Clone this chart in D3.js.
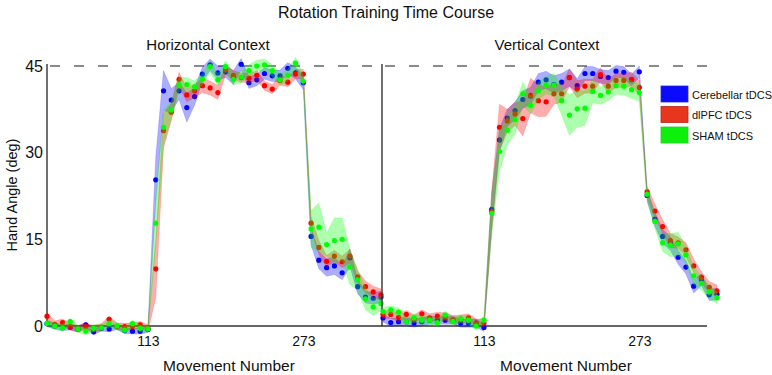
<!DOCTYPE html>
<html>
<head>
<meta charset="utf-8">
<script src="https://cdn.jsdelivr.net/npm/d3@7"></script>
<style>
  body { margin: 0; background: #fff; }
  text { font-family: "Liberation Sans", Arial, Helvetica, sans-serif; fill: #111; }
</style>
</head>
<body>
<div id="chart-area"></div>
<script>
// movement number of every bin (8 movements per bin)
const movement = [9, 17, 25, 33, 41, 49, 57, 65, 73, 81, 89, 97, 105, 113,
  121, 129, 137, 145, 153, 161, 169, 177, 185, 193, 201, 209, 217, 225, 233, 241, 249, 257, 265, 273,
  281, 289, 297, 305, 313, 321, 329, 337, 345, 353];

const groups = ["Cerebellar tDCS", "dlPFC tDCS", "SHAM tDCS"];
const xTicks = [113, 273];
const yTicks = [0, 15, 30, 45];

// Horizontal context, mean hand angle (deg)
const horizCereb = [0.4, 0.0, -0.3, -0.2, -0.5, 0.2, -1.0, -0.4, -0.5, -0.1, -0.8, -0.9, -0.9, -0.6,
  25.3, 40.7, 39.1, 40.7, 37.8, 39.7, 43.6, 45.2, 43.8, 44.0, 43.0, 45.3, 42.1, 42.6, 43.7, 43.3, 43.3, 44.6, 43.8, 42.1,
  15.5, 11.4, 10.1, 10.4, 9.2, 11.8, 6.8, 5.0, 4.8, 5.0];
const horizDlpfc = [1.7, 0.3, 0.6, -0.1, -0.5, -0.1, -0.5, -0.2, 1.15, -0.1, -0.1, -0.1, 0.2, -0.4,
  9.9, 33.8, 37.0, 42.7, 40.0, 40.7, 41.6, 41.2, 40.4, 44.4, 43.4, 43.0, 42.9, 43.4, 41.6, 41.0, 42.5, 42.2, 43.6, 43.6,
  17.8, 13.6, 11.2, 12.1, 11.1, 12.1, 8.5, 6.8, 5.9, 5.4];
const horizSham = [0.45, 0.0, -0.3, 0.75, -0.5, -0.9, -0.4, -0.3, 0.4, 0.0, -0.7, 0.4, -0.4, -0.5,
  17.8, 34.4, 37.4, 41.8, 41.8, 41.4, 42.7, 44.9, 42.6, 44.9, 42.7, 43.1, 44.2, 45.0, 45.2, 44.2, 42.6, 43.4, 45.5, 42.4,
  16.8, 17.1, 14.1, 14.8, 15.0, 10.2, 8.0, 4.7, 3.3, 3.9];

// Horizontal context, SEM
const horizCerebSem = [0.5, 0.5, 0.5, 0.5, 0.5, 0.5, 0.5, 0.5, 0.5, 0.5, 0.5, 0.5, 0.5, 0.5,
  4.0, 3.5, 2.0, 1.5, 2.5, 1.5, 1.2, 1.0, 1.2, 1.0, 1.2, 1.0, 1.0, 1.0, 1.0, 1.0, 1.0, 1.0, 1.0, 1.2,
  1.5, 1.5, 1.5, 1.5, 1.2, 1.5, 1.2, 1.0, 1.0, 1.0];
const horizDlpfcSem = [0.6, 0.6, 0.6, 0.6, 0.6, 0.6, 0.6, 0.6, 0.6, 0.6, 0.6, 0.6, 0.6, 0.6,
  5.0, 3.0, 1.5, 1.2, 1.2, 1.2, 1.2, 1.2, 1.2, 0.8, 0.8, 0.8, 0.8, 0.8, 0.8, 0.8, 0.8, 0.8, 0.8, 0.8,
  1.2, 1.2, 1.0, 1.0, 1.0, 1.2, 1.0, 1.0, 1.0, 1.0];
const horizShamSem = [0.6, 0.6, 0.6, 0.6, 0.6, 0.6, 0.6, 0.6, 0.6, 0.6, 0.6, 0.6, 0.6, 0.6,
  4.0, 3.0, 1.5, 1.2, 1.2, 1.0, 1.0, 1.0, 1.0, 1.0, 1.0, 1.0, 1.0, 1.0, 1.0, 1.0, 1.0, 1.0, 1.0, 1.0,
  3.2, 4.2, 2.0, 3.9, 3.7, 3.0, 1.8, 1.9, 1.5, 1.2];

// Vertical context, mean hand angle (deg)
const vertCereb = [1.4, 0.6, 0.75, 0.75, 0.5, 0.75, 1.0, 1.0, 1.0, 1.0, 0.5, 0.5, 0.5, -0.25,
  20.2, 32.2, 36.0, 37.3, 39.2, 39.8, 42.2, 42.6, 41.8, 42.2, 43.0, 41.6, 43.7, 43.7, 43.2, 43.0, 44.1, 43.9, 42.6, 44.0,
  22.6, 18.5, 15.5, 14.3, 11.9, 10.2, 6.9, 8.0, 5.4, 5.5];
const vertDlpfc = [2.0, 2.0, 1.5, 2.0, 1.2, 2.1, 1.4, 1.7, 1.6, 1.1, 1.2, 1.4, 0.5, 0.5,
  19.8, 34.4, 35.5, 36.7, 35.9, 39.9, 39.0, 38.8, 40.2, 40.2, 43.0, 41.0, 41.5, 41.5, 43.5, 41.5, 42.5, 42.5, 42.7, 41.3,
  23.2, 19.9, 17.2, 14.8, 14.4, 13.2, 10.4, 8.4, 6.7, 6.1];
const vertSham = [2.5, 2.8, 2.4, 0.75, 1.4, 1.0, 1.0, 0.6, 1.9, 0.8, 1.2, 1.0, 0.0, 1.0,
  19.5, 30.2, 33.9, 35.7, 40.2, 38.2, 40.7, 41.7, 41.7, 39.0, 36.5, 37.6, 37.7, 40.6, 39.9, 40.5, 41.6, 41.5, 40.9, 40.4,
  22.8, 18.1, 14.4, 14.0, 14.2, 12.3, 8.7, 7.4, 5.9, 4.9];

// Vertical context, SEM
const vertCerebSem = [0.7, 0.7, 0.7, 0.7, 0.7, 0.7, 0.7, 0.7, 0.7, 0.7, 0.7, 0.7, 0.7, 0.7,
  3.0, 2.0, 1.5, 1.5, 1.5, 1.5, 1.5, 1.5, 1.5, 1.5, 1.5, 1.2, 1.2, 1.2, 1.2, 1.2, 1.0, 1.0, 1.0, 1.0,
  1.0, 1.2, 1.2, 1.2, 1.2, 1.2, 1.2, 1.0, 1.0, 1.0];
const vertDlpfcSem = [0.7, 0.7, 0.7, 0.7, 0.7, 0.7, 0.7, 0.7, 0.7, 0.7, 0.7, 0.7, 0.7, 0.7,
  3.5, 4.0, 2.0, 2.0, 3.0, 3.0, 2.8, 2.5, 1.8, 1.5, 1.5, 1.5, 1.2, 1.2, 1.2, 1.2, 1.2, 1.2, 1.2, 1.2,
  1.0, 1.2, 1.2, 1.2, 1.0, 1.2, 1.2, 1.0, 1.0, 1.0];
const vertShamSem = [0.7, 0.7, 0.7, 0.7, 0.7, 0.7, 0.7, 0.7, 0.7, 0.7, 0.7, 0.7, 0.7, 0.7,
  3.5, 3.5, 2.5, 2.5, 2.0, 1.5, 1.5, 1.5, 2.0, 2.5, 3.5, 3.2, 3.0, 2.0, 1.5, 1.5, 1.5, 1.5, 1.5, 1.5,
  1.0, 1.2, 1.5, 2.0, 2.0, 1.5, 1.5, 1.2, 1.2, 1.0];

const colors = ["#0000ff", "#ff0000", "#00ff00"];
const legendFill = ["#0a0aff", "#e8361e", "#0cf00c"];
const legendStroke = ["#2a2ad0", "#b8261a", "#30c830"];

const WIDTH = 772;
const HEIGHT = 375;

const svg = d3.select("#chart-area").append("svg")
  .attr("width", WIDTH)
  .attr("height", HEIGHT);

const y = d3.scaleLinear()
  .domain([0, 45])
  .range([326, 66]);

const xLeft = d3.scaleLinear()
  .domain([9, 353])
  .range([47, 381]);

const xRight = d3.scaleLinear()
  .domain([9, 353])
  .range([383, 717]);

// Title
svg.append("text")
  .attr("x", 386)
  .attr("y", 18)
  .attr("text-anchor", "middle")
  .attr("font-size", "16px")
  .text("Rotation Training Time Course");

// Y label
svg.append("text")
  .attr("transform", "rotate(-90)")
  .attr("x", -195)
  .attr("y", 17)
  .attr("text-anchor", "middle")
  .attr("font-size", "14.5px")
  .text("Hand Angle (deg)");

function drawPanel(x, boxLeft, boxRight, title, titleX, labelX, series, showYTicks) {
  const g = svg.append("g");

  // 45 deg reference
  g.append("line")
    .attr("x1", boxLeft + 3)
    .attr("x2", boxRight)
    .attr("y1", y(45))
    .attr("y2", y(45))
    .attr("stroke", "#666")
    .attr("stroke-width", 1.3)
    .attr("stroke-dasharray", "10,14");

  // axis lines
  g.append("line")
    .attr("x1", boxLeft).attr("x2", boxRight)
    .attr("y1", y(0)).attr("y2", y(0))
    .attr("stroke", "#333").attr("stroke-width", 1.4);
  g.append("line")
    .attr("x1", boxLeft).attr("x2", boxLeft)
    .attr("y1", y(45) - 2).attr("y2", y(0))
    .attr("stroke", "#333").attr("stroke-width", 1.4);

  const xAxisCall = d3.axisBottom(x)
    .tickValues(xTicks)
    .tickSize(0)
    .tickPadding(10);
  const xAxisGroup = g.append("g")
    .attr("transform", `translate(0,${y(0)})`)
    .call(xAxisCall);
  xAxisGroup.select(".domain").remove();
  xAxisGroup.selectAll("text")
    .attr("font-size", "14px")
    .attr("fill", "#111")
    .style("font-family", "'Liberation Sans', Arial, sans-serif");

  if (showYTicks) {
    const yAxisCall = d3.axisLeft(y)
      .tickValues(yTicks)
      .tickSize(0)
      .tickPadding(4);
    const yAxisGroup = g.append("g")
      .attr("transform", `translate(${boxLeft},0)`)
      .call(yAxisCall);
    yAxisGroup.select(".domain").remove();
    yAxisGroup.selectAll("text")
      .attr("font-size", "16px")
      .attr("fill", "#111")
      .style("font-family", "'Liberation Sans', Arial, sans-serif");
  }

  g.append("text")
    .attr("x", titleX)
    .attr("y", 50)
    .attr("text-anchor", "middle")
    .attr("font-size", "15px")
    .text(title);

  g.append("text")
    .attr("x", labelX)
    .attr("y", 371)
    .attr("text-anchor", "middle")
    .attr("font-size", "15.5px")
    .text("Movement Number");

  const area = d3.area()
    .x((d, i) => x(movement[i]))
    .y0(d => y(d.mean - d.sem))
    .y1(d => y(d.mean + d.sem));

  series.forEach((s, k) => {
    const pts = s.mean.map((m, i) => ({ m: movement[i], mean: m, sem: s.sem[i] }));

    g.append("path")
      .datum(pts)
      .attr("d", area)
      .attr("fill", colors[k])
      .attr("fill-opacity", 0.32)
      .attr("stroke", colors[k])
      .attr("stroke-opacity", 0.25)
      .attr("stroke-width", 0.6);

    g.selectAll(null)
      .data(pts)
      .enter().append("circle")
      .attr("cx", d => x(d.m))
      .attr("cy", d => y(d.mean))
      .attr("r", 2.6)
      .attr("fill", colors[k]);
  });
}

drawPanel(xLeft, 47, 382, "Horizontal Context", 208, 229, [
  { mean: horizCereb, sem: horizCerebSem },
  { mean: horizDlpfc, sem: horizDlpfcSem },
  { mean: horizSham, sem: horizShamSem }
], true);

drawPanel(xRight, 382, 707, "Vertical Context", 547, 566, [
  { mean: vertCereb, sem: vertCerebSem },
  { mean: vertDlpfc, sem: vertDlpfcSem },
  { mean: vertSham, sem: vertShamSem }
], false);

// Legend
const legend = svg.append("g")
  .attr("transform", "translate(661,86)");

groups.forEach((name, i) => {
  const row = legend.append("g")
    .attr("transform", `translate(0,${i * 20.5})`);

  row.append("rect")
    .attr("width", 27)
    .attr("height", 16)
    .attr("fill", legendFill[i])
    .attr("stroke", legendStroke[i])
    .attr("stroke-width", 0.8);

  row.append("text")
    .attr("x", 31)
    .attr("y", 12.5)
    .attr("font-size", "11px")
    .text(name);
});
</script>
</body>
</html>
